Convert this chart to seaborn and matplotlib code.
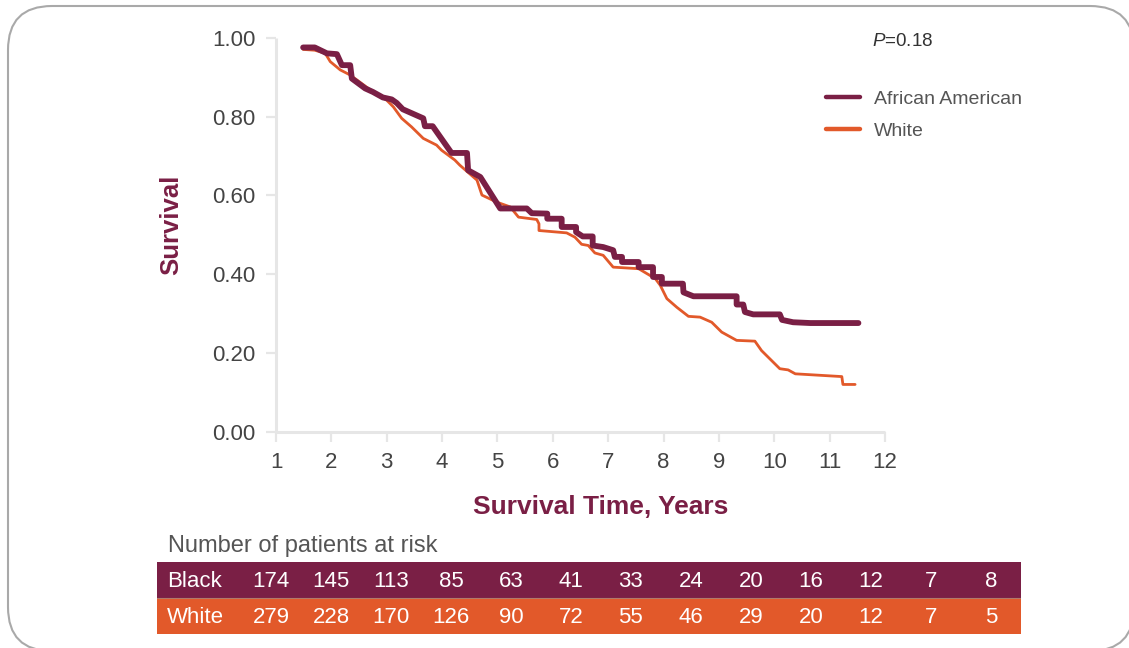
import numpy as np
import pandas as pd
import matplotlib
matplotlib.use("Agg")
import matplotlib.pyplot as plt
import seaborn as sns
from matplotlib.lines import Line2D
from matplotlib.patches import FancyBboxPatch
from matplotlib.transforms import IdentityTransform

# ---------------- data ----------------
aa_time = [1.49, 1.70, 1.92, 2.10, 2.19, 2.34, 2.37, 2.61, 2.75, 2.93, 3.09, 3.18, 3.29,
           3.66, 3.69, 3.83, 4.17, 4.45, 4.47, 4.69, 5.05, 5.53, 5.62, 5.90, 5.90, 6.16,
           6.16, 6.42, 6.42, 6.54, 6.72, 6.72, 6.91, 7.09, 7.12, 7.25, 7.25, 7.55, 7.55,
           7.81, 7.81, 7.97, 7.97, 8.35, 8.36, 8.54, 9.32, 9.32, 9.44, 9.47, 9.62, 10.10,
           10.14, 10.34, 10.65, 11.52]
aa_surv = [0.976, 0.976, 0.961, 0.959, 0.931, 0.931, 0.897, 0.872, 0.863, 0.849, 0.844,
           0.835, 0.819, 0.796, 0.776, 0.776, 0.708, 0.708, 0.664, 0.647, 0.567, 0.567,
           0.555, 0.554, 0.541, 0.541, 0.520, 0.520, 0.507, 0.496, 0.496, 0.473, 0.469,
           0.461, 0.444, 0.444, 0.431, 0.431, 0.418, 0.418, 0.393, 0.393, 0.376, 0.376,
           0.354, 0.344, 0.344, 0.323, 0.323, 0.304, 0.298, 0.298, 0.284, 0.278, 0.276,
           0.276]

wh_time = [1.49, 1.70, 1.89, 1.98, 2.16, 2.34, 2.61, 2.75, 3.00, 3.12, 3.27, 3.45, 3.66,
           3.90, 3.99, 4.23, 4.32, 4.63, 4.72, 4.99, 5.23, 5.38, 5.71, 5.75, 5.75, 6.25,
           6.40, 6.52, 6.64, 6.76, 6.91, 7.09, 7.55, 7.85, 7.94, 8.06, 8.24, 8.45, 8.66,
           8.87, 9.05, 9.32, 9.65, 9.77, 10.10, 10.25, 10.38, 11.22, 11.24, 11.46]
wh_surv = [0.971, 0.969, 0.961, 0.940, 0.919, 0.906, 0.878, 0.863, 0.842, 0.825, 0.796,
           0.774, 0.745, 0.728, 0.715, 0.690, 0.677, 0.639, 0.601, 0.583, 0.571, 0.545,
           0.539, 0.528, 0.511, 0.505, 0.494, 0.476, 0.473, 0.454, 0.448, 0.418, 0.414,
           0.389, 0.372, 0.338, 0.316, 0.293, 0.291, 0.278, 0.253, 0.232, 0.230, 0.206,
           0.160, 0.157, 0.147, 0.140, 0.120, 0.120]

groups = ["African American", "White"]
row_labels = ["Black", "White"]
black_at_risk = [174, 145, 113, 85, 63, 41, 33, 24, 20, 16, 12, 7, 8]
white_at_risk = [279, 228, 170, 126, 90, 72, 55, 46, 29, 20, 12, 7, 5]
x_ticks = list(range(1, 13))
y_ticks = [0.0, 0.2, 0.4, 0.6, 0.8, 1.0]

MAROON = "#7a1f45"
ORANGE = "#e2592a"
AXIS_GRAY = "#e6e6e6"
TEXT_GRAY = "#444444"

df_aa = pd.DataFrame({"time": aa_time, "survival": aa_surv, "group": groups[0]})
df_wh = pd.DataFrame({"time": wh_time, "survival": wh_surv, "group": groups[1]})

# ---------------- style ----------------
sns.set_style("white")
plt.rcParams["font.family"] = ["Liberation Sans", "DejaVu Sans"]
plt.rcParams["mathtext.fontset"] = "custom"
plt.rcParams["mathtext.it"] = "Liberation Sans:italic"
plt.rcParams["mathtext.rm"] = "Liberation Sans"

W, H = 1129, 648
fig = plt.figure(figsize=(W / 100, H / 100), dpi=100)
fig.patch.set_facecolor("white")

ax = fig.add_axes([276 / W, 1 - 431.7 / H, 609 / W, 393.7 / H])
ax.set_facecolor("none")

sns.lineplot(data=df_wh, x="time", y="survival", color=ORANGE, lw=2.0,
             sort=False, estimator=None, ax=ax, legend=False)
sns.lineplot(data=df_aa, x="time", y="survival", color=MAROON, lw=4.2,
             sort=False, estimator=None, ax=ax, legend=False)

ax.set_xlim(1, 12)
ax.set_ylim(0, 1)
ax.set_xticks(x_ticks)
ax.set_xticklabels([str(t) for t in x_ticks])
ax.set_yticks(y_ticks)
ax.set_yticklabels([f"{v:.2f}" for v in y_ticks])

for s in ["top", "right"]:
    ax.spines[s].set_visible(False)
for s in ["left", "bottom"]:
    ax.spines[s].set_color(AXIS_GRAY)
    ax.spines[s].set_linewidth(2.2)
    ax.spines[s].set_capstyle("butt")

ax.tick_params(axis="both", which="major", direction="out", length=7.5, width=1.6,
               color=AXIS_GRAY, labelcolor=TEXT_GRAY, labelsize=16,
               left=True, bottom=True)
ax.tick_params(axis="y", pad=7)
ax.tick_params(axis="x", pad=7)

ax.set_xlabel("Survival Time, Years", fontsize=19, fontweight="bold", color=MAROON)
ax.set_ylabel("Survival", fontsize=18.5, fontweight="bold", color=MAROON)
ax.xaxis.set_label_coords(0.533, -0.16)
ax.yaxis.set_label_coords(-0.152, 0.525)

# legend
handles = [Line2D([], [], color=MAROON, lw=3.2, solid_capstyle="round"),
           Line2D([], [], color=ORANGE, lw=3.2, solid_capstyle="round")]
leg = ax.legend(handles, groups, loc="upper left", bbox_to_anchor=(826 / W, 1 - 90.5 / H),
                bbox_transform=fig.transFigure, frameon=False, fontsize=14,
                handlelength=1.75, handletextpad=0.7, labelspacing=0.72,
                borderpad=0, borderaxespad=0)
for t in leg.get_texts():
    t.set_color("#555555")

fig.text(872 / W, 1 - 41.5 / H, r"$\mathit{P}$=0.18", fontsize=13.5, color="#333333",
         ha="left", va="center")

# at-risk table
fig.text(168 / W, 1 - 546 / H, "Number of patients at risk", fontsize=17,
         color="#555555", ha="left", va="center")
tx0, tx1, ty0, ty1 = 157, 1020.5, 561.5, 634
tax = fig.add_axes([tx0 / W, 1 - ty1 / H, (tx1 - tx0) / W, (ty1 - ty0) / H])
tax.set_xlim(tx0, tx1)
tax.set_ylim(0, 2)
tax.axhspan(1, 2, color=MAROON, lw=0)
tax.axhspan(0, 1, color=ORANGE, lw=0)
tax.axhline(1, color="#b07a6a", lw=0.8)
tax.set_axis_off()
col0, dcol = 271, 59.98
for row_y, lab, vals in [(1.45, row_labels[0], black_at_risk),
                         (0.45, row_labels[1], white_at_risk)]:
    tax.text(167, row_y, lab, color="white", fontsize=16, ha="left", va="center")
    for i, v in enumerate(vals):
        tax.text(col0 + dcol * i, row_y, str(v), color="white", fontsize=16,
                 ha="center", va="center")

# rounded frame (filled so the renderer draws its corners outside the canvas cleanly)
frame = FancyBboxPatch((8, -3), 1126, 645, boxstyle="round,pad=0,rounding_size=44",
                       transform=IdentityTransform(), facecolor="white", ec="#a9a9a9",
                       lw=1.5, clip_on=False, zorder=-10)
fig.add_artist(frame)

fig.savefig("out.png", dpi=100)
